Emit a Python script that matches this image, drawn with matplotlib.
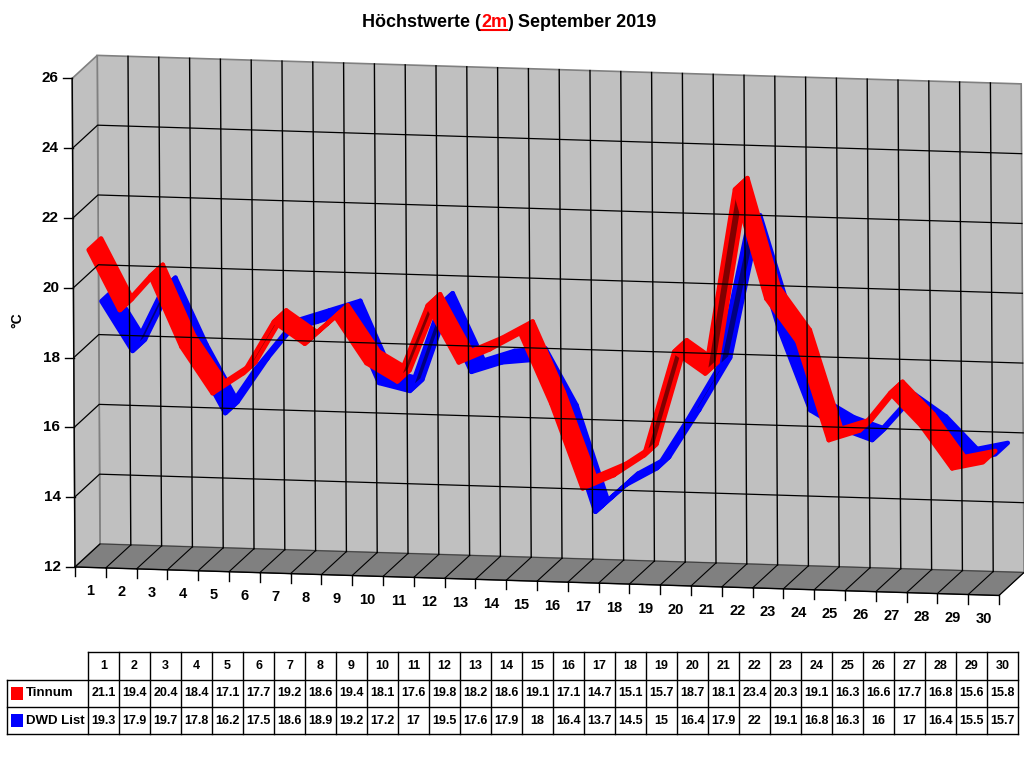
import numpy as np
import matplotlib.pyplot as plt
from matplotlib.transforms import Affine2D, IdentityTransform
from matplotlib.patches import Polygon, Rectangle

plt.rcParams['font.family'] = ['Liberation Sans', 'DejaVu Sans']
plt.rcParams['font.weight'] = 'bold'

# Daten: Höchstwerte September 2019
days = list(range(1, 31))
tinnum = [21.1, 19.4, 20.4, 18.4, 17.1, 17.7, 19.2, 18.6, 19.4, 18.1, 17.6, 19.8, 18.2, 18.6, 19.1,
          17.1, 14.7, 15.1, 15.7, 18.7, 18.1, 23.4, 20.3, 19.1, 16.3, 16.6, 17.7, 16.8, 15.6, 15.8]
dwd_list = [19.3, 17.9, 19.7, 17.8, 16.2, 17.5, 18.6, 18.9, 19.2, 17.2, 17, 19.5, 17.6, 17.9, 18,
            16.4, 13.7, 14.5, 15, 16.4, 17.9, 22, 19.1, 16.8, 16.3, 16, 17, 16.4, 15.5, 15.7]
series_names = ['Tinnum', 'DWD List']
series_colors = ['#ff0000', '#0000ff']
under_colors = ['#800000', '#000080']
y_ticks = [12, 14, 16, 18, 20, 22, 24, 26]
y_min, y_max = 12, 26

fig = plt.figure(figsize=(10.24, 7.68), dpi=100)
ax = fig.add_axes([0, 0, 1, 1])
ax.set_xlim(0, 1024)
ax.set_ylim(768, 0)
ax.axis('off')

# schraege Projektion: Tag / °C -> Pixel der Vorderebene
front = Affine2D.from_values(30.8, 0.95, -0.2, -34.9, 62.0, 985.3) + ax.transData
# Tiefenvektor (vorne -> Rueckwand) in Daten-Einheiten
M = np.array([[30.8, -0.2], [0.95, -34.9]])
ddx, ddy = np.linalg.solve(M, [25.0, -23.0])


def at(day, temp, depth):
    return (day + depth * ddx, temp + depth * ddy)


x0, x1 = 0.5, 30.5

# Rueckwand, Seitenwand, Boden
back = [at(x0, y_min, 1), at(x1, y_min, 1), at(x1, y_max, 1), at(x0, y_max, 1)]
side = [at(x0, y_min, 0), at(x0, y_min, 1), at(x0, y_max, 1), at(x0, y_max, 0)]
floor = [at(x0, y_min, 0), at(x1, y_min, 0), at(x1, y_min, 1), at(x0, y_min, 1)]
ax.add_patch(Polygon(back, closed=True, fc='#c0c0c0', ec='#808080', lw=1.2, transform=front))
ax.add_patch(Polygon(side, closed=True, fc='#c0c0c0', ec='#808080', lw=1.2, transform=front))

for t in y_ticks[1:-1]:
    p = [at(x0, t, 0), at(x0, t, 1), at(x1, t, 1)]
    ax.plot([q[0] for q in p], [q[1] for q in p], color='black', lw=0.9, transform=front)
for k in range(1, 30):
    p = [at(k + 0.5, y_min, 1), at(k + 0.5, y_max, 1)]
    ax.plot([q[0] for q in p], [q[1] for q in p], color='black', lw=1.0, transform=front)

ax.add_patch(Polygon(floor, closed=True, fc='#808080', ec='#404040', lw=0.8, transform=front))
for k in range(0, 31):
    p = [at(k + 0.5, y_min, 0), at(k + 0.5, y_min, 1)]
    ax.plot([q[0] for q in p], [q[1] for q in p], color='black', lw=0.8, transform=front)

# Vorderkante, y-Achse, Ticks
p = [at(x0, y_min, 0), at(x1, y_min, 0)]
ax.plot([q[0] for q in p], [q[1] for q in p], color='black', lw=1.0, transform=front)
p = [at(x0, y_min, 0), at(x0, y_max, 0)]
ax.plot([q[0] for q in p], [q[1] for q in p], color='black', lw=1.0, transform=front)

pix = ax.transData
for t in y_ticks:
    px, py = pix.inverted().transform(front.transform(at(x0, t, 0)))
    ax.plot([px - 9, px], [py, py], color='black', lw=1.0)
    ax.text(px - 14, py, str(t), ha='right', va='center', fontsize=11, fontweight='bold')

for k in range(0, 31):
    px, py = pix.inverted().transform(front.transform(at(k + 0.5, y_min, 0)))
    ax.plot([px, px], [py, py + 9], color='black', lw=1.0)
for d in days:
    px, py = pix.inverted().transform(front.transform(at(d, y_min, 0)))
    ax.text(px, py + 24, str(d), ha='center', va='center', fontsize=10.5, fontweight='bold')

ax.text(17, 320, '°C', rotation=90, ha='center', va='center', fontsize=10, fontweight='bold')

# Baender (hinten blau, vorne rot)
ribbons = [(dwd_list, 0.5, 1.0, 1), (tinnum, 0.0, 0.5, 0)]
for vals, d0, d1, si in ribbons:
    for i in range(len(days) - 1):
        a0 = at(days[i], vals[i], d0)
        a1 = at(days[i + 1], vals[i + 1], d0)
        b1 = at(days[i + 1], vals[i + 1], d1)
        b0 = at(days[i], vals[i], d1)
        f0 = front.transform([a0, a1, b0])
        s = f0[1] - f0[0]
        dv = f0[2] - f0[0]
        # Unterseite sichtbar, wenn das Band steil ansteigt
        under = (s[0] * dv[1] - s[1] * dv[0]) < 0
        fc = under_colors[si] if under else series_colors[si]
        ax.add_patch(Polygon([a0, a1, b1, b0], closed=True, fc=fc, ec=series_colors[si],
                             lw=3.2, joinstyle='round', transform=front))

# Titel
t1 = ax.text(362, 27, 'Höchstwerte (', ha='left', va='baseline', fontsize=13, fontweight='bold')
t2 = ax.annotate('2m', xy=(1, 0), xycoords=t1, ha='left', va='bottom', fontsize=13,
                 fontweight='bold', color='#ff0000')
t3 = ax.annotate(') September 2019', xy=(1, 0), xycoords=t2, ha='left', va='bottom',
                 fontsize=13, fontweight='bold')
fig.canvas.draw()
bb = t2.get_window_extent(fig.canvas.get_renderer())
ax.plot([bb.x0, bb.x1], [bb.y0 + 1.5, bb.y0 + 1.5], color='#ff0000', lw=1.5,
        transform=IdentityTransform())

# Datentabelle
tx0, tx1 = 88, 1018
cw = (tx1 - tx0) / len(days)
ty = [652, 680, 707, 734]
lx = 7
ax.plot([tx0, tx1], [ty[0], ty[0]], color='black', lw=1)
for yy in ty[1:]:
    ax.plot([lx, tx1], [yy, yy], color='black', lw=1)
ax.plot([lx, lx], [ty[1], ty[3]], color='black', lw=1)
for k in range(len(days) + 1):
    xx = tx0 + k * cw
    ax.plot([xx, xx], [ty[0], ty[3]], color='black', lw=1)

for k, d in enumerate(days):
    xc = tx0 + (k + 0.5) * cw
    ax.text(xc, (ty[0] + ty[1]) / 2, str(d), ha='center', va='center', fontsize=9,
            fontweight='bold')
    for r, vals in enumerate([tinnum, dwd_list]):
        ax.text(xc, (ty[r + 1] + ty[r + 2]) / 2, '%g' % vals[k], ha='center', va='center',
                fontsize=9, fontweight='bold')

for r, name in enumerate(series_names):
    yc = (ty[r + 1] + ty[r + 2]) / 2
    ax.add_patch(Rectangle((11, yc - 6.5), 12, 13, fc=series_colors[r], ec='none'))
    ax.text(26, yc, name, ha='left', va='center', fontsize=9.5, fontweight='bold')

fig.savefig('out.png', dpi=100)
